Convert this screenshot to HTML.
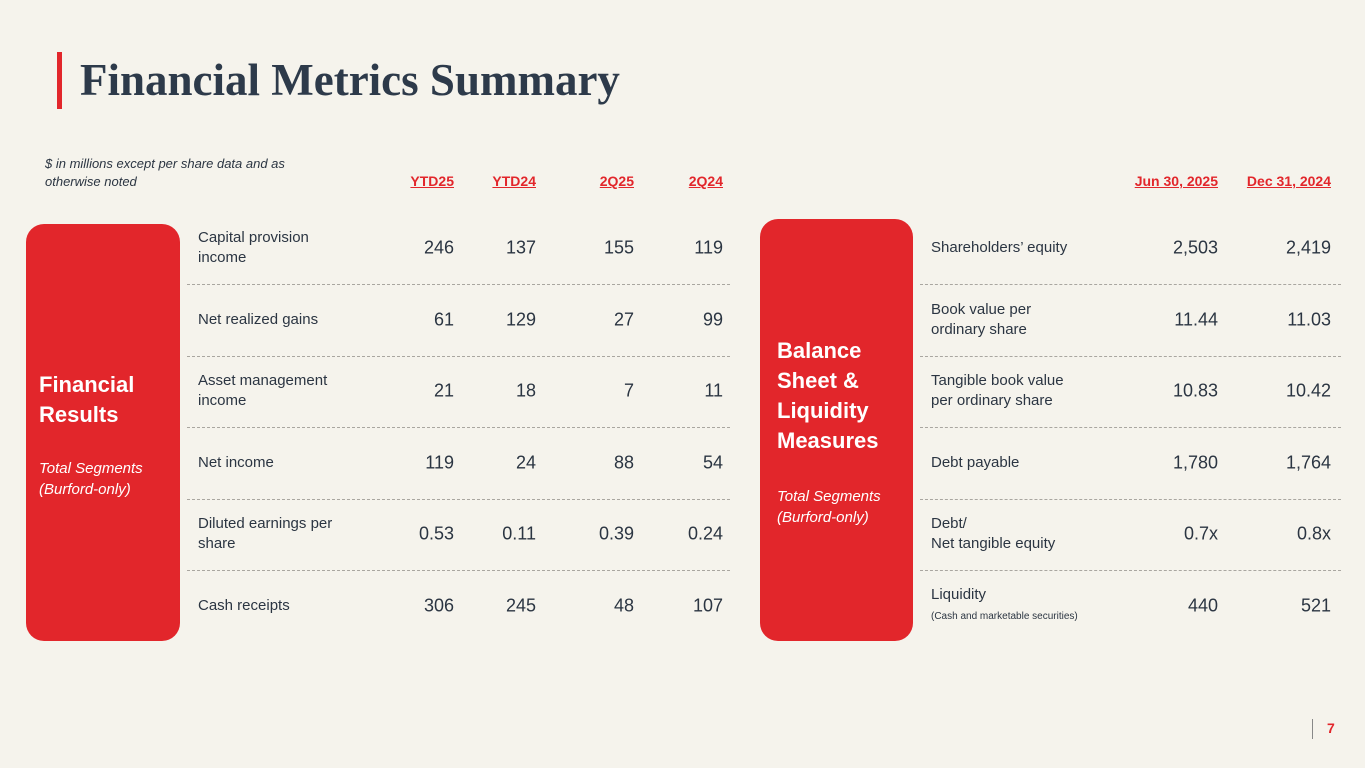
<!DOCTYPE html>
<html><head><meta charset="utf-8">
<style>
*{margin:0;padding:0;box-sizing:border-box}
body{width:1365px;height:768px;background:#f5f3ec;position:relative;overflow:hidden;font-family:"Liberation Sans","DejaVu Sans",sans-serif;color:#2b3542}
.a{position:absolute}
.title{left:80px;top:54px;font-family:"Liberation Serif",serif;font-weight:bold;font-size:45px;color:#2d3a4a;white-space:nowrap}
.hdr{position:absolute;top:173px;font-size:14px;font-weight:bold;color:#e2262b;text-decoration:underline;text-align:right;white-space:nowrap}
.box{position:absolute;background:#e2262b;border-radius:18px;color:#fff}
.box .h{position:absolute;font-weight:bold;font-size:22px;line-height:30px}
.box .s{position:absolute;font-style:italic;font-size:15px;line-height:21px}
.lbl{position:absolute;font-size:15px;line-height:20px;transform:translateY(-50%)}
.num{position:absolute;font-size:18px;text-align:right;transform:translateY(-50%);white-space:nowrap}
.dash{position:absolute;height:0;border-top:1.5px dashed #a9a6a0}
</style></head><body>
<div class="a" style="left:57px;top:52px;width:5px;height:57px;background:#e2262b"></div>
<div class="a title">Financial Metrics Summary</div>
<div class="a" style="left:45px;top:155px;font-size:13px;font-style:italic;line-height:18px;width:275px">$ in millions except per share data and as otherwise noted</div>

<div class="hdr" style="right:911px">YTD25</div>
<div class="hdr" style="right:829px">YTD24</div>
<div class="hdr" style="right:731px">2Q25</div>
<div class="hdr" style="right:642px">2Q24</div>
<div class="hdr" style="right:147px">Jun 30, 2025</div>
<div class="hdr" style="right:34px">Dec 31, 2024</div>

<div class="box" style="left:26px;top:224px;width:154px;height:417px">
<div class="h" style="left:13px;top:146px">Financial<br>Results</div>
<div class="s" style="left:13px;top:234px">Total Segments<br>(Burford-only)</div>
</div>
<div class="box" style="left:760px;top:219px;width:153px;height:422px">
<div class="h" style="left:17px;top:117px">Balance<br>Sheet &amp;<br>Liquidity<br>Measures</div>
<div class="s" style="left:17px;top:267px">Total Segments<br>(Burford-only)</div>
</div>

<div id="rows"></div>
<div class="a" style="left:1312px;top:719px;width:1px;height:20px;background:#888"></div>
<div class="a" style="left:1327px;top:720px;font-size:14px;font-weight:bold;color:#e2262b">7</div>

<script>
const leftLabels=["Capital provision<br>income","Net realized gains","Asset management<br>income","Net income","Diluted earnings per<br>share","Cash receipts"];
const ytd25=["246","61","21","119","0.53","306"];
const ytd24=["137","129","18","24","0.11","245"];
const q225=["155","27","7","88","0.39","48"];
const q224=["119","99","11","54","0.24","107"];
const rightLabels=["Shareholders’ equity","Book value per<br>ordinary share","Tangible book value<br>per ordinary share","Debt payable","Debt/<br>Net tangible equity","Liquidity<br><span style='font-size:10px'>(Cash and marketable securities)</span>"];
const jun25=["2,503","11.44","10.83","1,780","0.7x","440"];
const dec24=["2,419","11.03","10.42","1,764","0.8x","521"];
const root=document.getElementById('rows');
function add(cls,html,style,name){const d=document.createElement('div');d.className=cls;d.innerHTML=html;d.style.cssText=style;


root.appendChild(d);}
const y0=248,step=71.6;
for(let i=0;i<6;i++){
 const y=y0+i*step;
 add('lbl',leftLabels[i],`left:198px;top:${y}px`,'row-label-left');
 add('num',ytd25[i],`right:911px;top:${y}px`,'value-ytd25');
 add('num',ytd24[i],`right:829px;top:${y}px`,'value-ytd24');
 add('num',q225[i],`right:731px;top:${y}px`,'value-2q25');
 add('num',q224[i],`right:642px;top:${y}px`,'value-2q24');
 add('lbl',rightLabels[i],`left:931px;top:${y}px`,'row-label-right');
 add('num',jun25[i],`right:147px;top:${y}px`,'value-jun-2025');
 add('num',dec24[i],`right:34px;top:${y}px`,'value-dec-2024');
 if(i<5){const ly=y+36;
  add('dash','',`left:187px;width:543px;top:${ly}px`,'row-divider-left');
  add('dash','',`left:920px;width:421px;top:${ly}px`,'row-divider-right');}
}
</script>
</body></html>
